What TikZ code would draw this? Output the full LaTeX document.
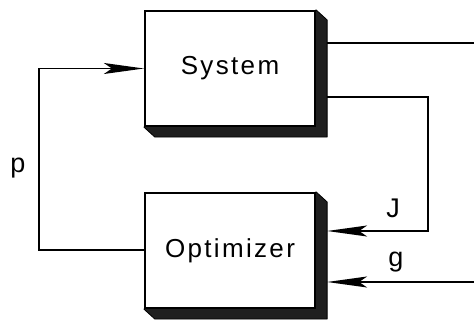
\documentclass[tikz,border=0pt]{standalone}
\usepackage{fontspec}
\setmainfont{Liberation Sans}
\newfontfamily\boxfont[LetterSpace=9]{Liberation Sans}
\usetikzlibrary{arrows.meta,backgrounds}
\tikzset{
  blockbox/.style={draw=black, line width=2.2pt, fill=white, minimum width=170pt, minimum height=115pt, inner sep=0pt, font=\boxfont\fontsize{26}{26}\selectfont},
  boxshadow/.style={fill=black!88, draw=black, line width=0.8pt, line join=round},
  wire/.style={draw=black, line width=1.6pt},
  arr/.style={wire, -{Stealth[length=40pt,width=11pt,inset=8pt]}},
  lbl/.style={font=\fontsize{27}{27}\selectfont, inner sep=0pt}
}
\begin{document}
\begin{tikzpicture}[x=1pt,y=-1pt]
\useasboundingbox (0,0) rectangle (474,320);
\node[blockbox] (sys) at (230,68.5) {System};
\node[blockbox] (opt) at (230,250.5) {Optimizer};
\begin{scope}[on background layer]
\foreach \b in {sys,opt}{
  \fill[boxshadow] (\b.north east) -- ([shift={(11,10)}]\b.north east) -- ([shift={(11,10)}]\b.south east) -- ([shift={(11,10)}]\b.south west) -- (\b.south west) -- cycle;
}
\end{scope}
% coordinates on the shadow edges and free ends
\coordinate (sA) at ([xshift=11]sys.east |- 0,43);
\coordinate (sB) at ([xshift=11]sys.east |- 0,97);
\coordinate (oA) at ([xshift=11]opt.east |- 0,231);
\coordinate (oB) at ([xshift=11]opt.east |- 0,282);
\coordinate (eA) at (474,43);
\coordinate (eB) at (474,282);
\coordinate (cJ) at (428,97);
\coordinate (cP) at (39,250);
% connectors
\draw[arr] (opt.west |- cP) -- (cP) |- (sys.west);
\draw[wire] (sA) -- (eA);
\draw[arr] (sB) -- (cJ) |- (oA);
\draw[arr] (eB) -- (oB);
% labels
\node[lbl] (p) at (18,168) {p};
\node[lbl] (J) at (393,208) {J};
\node[lbl] (g) at (396,262) {g};
\end{tikzpicture}
\end{document}
